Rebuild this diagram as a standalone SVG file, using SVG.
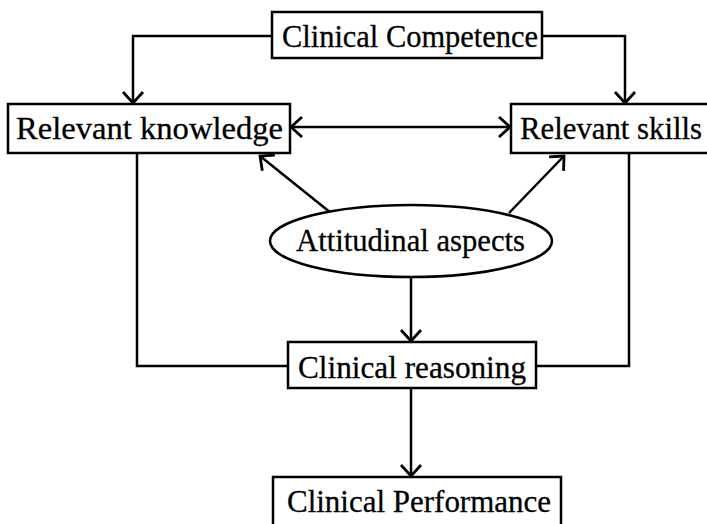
<svg xmlns="http://www.w3.org/2000/svg" width="707" height="524" viewBox="0 0 707 524">
<style>
.box{fill:#fff;stroke:#000;stroke-width:2.5}
.lbl{font-family:"Liberation Serif","Times New Roman",serif;font-size:32px;fill:#000;stroke:#000;stroke-width:0.3}
.c{stroke:#000;stroke-width:2.5;fill:none}
</style>
<defs>
<marker id="ah" viewBox="0 0 14 24" refX="12.5" refY="12" markerWidth="14" markerHeight="24" markerUnits="userSpaceOnUse" orient="auto-start-reverse">
<path d="M1.5,2 L12.5,12 L1.5,22" fill="none" stroke="#000" stroke-width="2.8"/>
</marker>
</defs>
<rect width="707" height="524" fill="#fff"/>
<g id="connectors">
<path class="c" d="M272,36 H133 V103" marker-end="url(#ah)"/>
<path class="c" d="M542,36 H625 V103" marker-end="url(#ah)"/>
<path class="c" d="M291,127 H510" marker-start="url(#ah)" marker-end="url(#ah)"/>
<path class="c" d="M331,213 L260,156" marker-end="url(#ah)"/>
<path class="c" d="M509,213 L564,156" marker-end="url(#ah)"/>
<path class="c" d="M411,277 V341" marker-end="url(#ah)"/>
<path class="c" d="M137,154 V366 H288"/>
<path class="c" d="M629,154 V366 H536"/>
<path class="c" d="M411,388 V476" marker-end="url(#ah)"/>
</g>
<g id="competence">
<rect class="box" x="272" y="12" width="270" height="46"/>
<text class="lbl" x="282" y="47" textLength="256" lengthAdjust="spacingAndGlyphs">Clinical Competence</text>
</g>
<g id="knowledge">
<rect class="box" x="8" y="104" width="282" height="49"/>
<text class="lbl" x="16" y="139" textLength="267" lengthAdjust="spacingAndGlyphs">Relevant knowledge</text>
</g>
<g id="skills">
<rect class="box" x="511" y="104" width="200" height="49"/>
<text class="lbl" x="520" y="139" textLength="182" lengthAdjust="spacingAndGlyphs">Relevant skills</text>
</g>
<g id="attitudinal">
<ellipse class="box" cx="411" cy="241" rx="141" ry="36"/>
<text class="lbl" x="296" y="251" textLength="229" lengthAdjust="spacingAndGlyphs">Attitudinal aspects</text>
</g>
<g id="reasoning">
<rect class="box" x="288" y="342" width="248" height="46"/>
<text class="lbl" x="298" y="378" textLength="228" lengthAdjust="spacingAndGlyphs">Clinical reasoning</text>
</g>
<g id="performance">
<rect class="box" x="273" y="477" width="288" height="52"/>
<text class="lbl" x="287" y="512" textLength="264" lengthAdjust="spacingAndGlyphs">Clinical Performance</text>
</g>
</svg>
